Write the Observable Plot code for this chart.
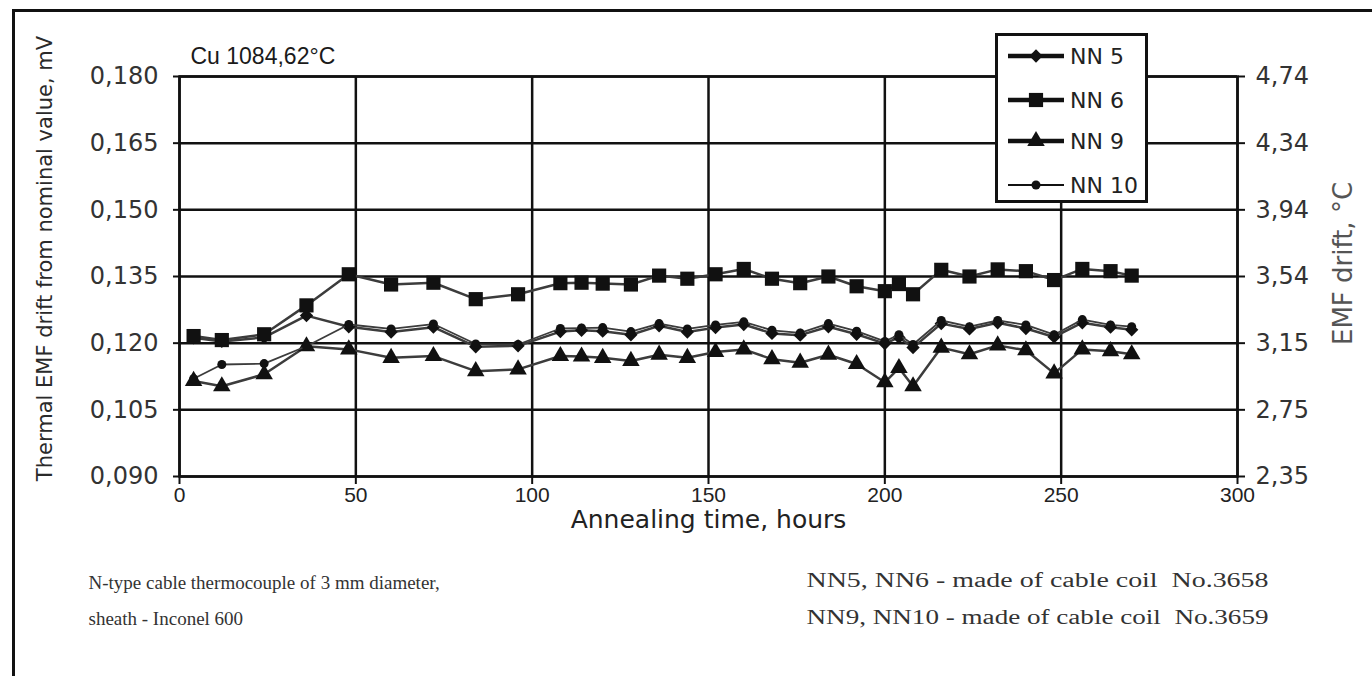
<!DOCTYPE html>
<html><head><meta charset="utf-8">
<script src="https://cdn.jsdelivr.net/npm/d3@7"></script>
<script src="https://cdn.jsdelivr.net/npm/@observablehq/plot@0.6"></script>
<style>
body{margin:0;background:#fff;overflow:hidden}
#wrap{position:relative;width:1372px;height:676px;overflow:hidden;background:#fff}
#border{position:absolute;left:12px;top:9px;width:1400px;height:700px;border-left:3px solid #111;border-top:3px solid #111}
#chart{position:absolute;left:0;top:0}
#legend{position:absolute;left:995px;top:33px;width:147px;height:164px;border:3px solid #111;background:#fff;font-family:"DejaVu Sans";font-size:22px;color:#222}
.row{position:absolute;left:8px;height:30px;display:flex;align-items:center}
.row svg{margin-right:4px}
</style></head>
<body><div id="wrap"><div id="border"></div><div id="chart"></div><div id="legend"></div></div>
<script>
const hours = [4, 12, 24, 36, 48, 60, 72, 84, 96, 108, 114, 120, 128, 136, 144, 152, 160, 168, 176, 184, 192, 200, 204, 208, 216, 224, 232, 240, 248, 256, 264, 270];
const nn5  = [0.1212, 0.1204, 0.1213, 0.1262, 0.1237, 0.1225, 0.1236, 0.1192, 0.1194, 0.1226, 0.1229, 0.1227, 0.1219, 0.1239, 0.1225, 0.1235, 0.1242, 0.1222, 0.1218, 0.1237, 0.1220, 0.1199, 0.1213, 0.1190, 0.1244, 0.1232, 0.1246, 0.1233, 0.1214, 0.1246, 0.1236, 0.1230];
const nn6  = [0.1216, 0.1207, 0.1220, 0.1285, 0.1355, 0.1332, 0.1336, 0.1299, 0.1310, 0.1335, 0.1336, 0.1334, 0.1332, 0.1352, 0.1345, 0.1355, 0.1367, 0.1345, 0.1335, 0.1350, 0.1328, 0.1317, 0.1333, 0.1310, 0.1365, 0.1350, 0.1366, 0.1362, 0.1342, 0.1367, 0.1362, 0.1352];
const nn9  = [0.1115, 0.1103, 0.1130, 0.1193, 0.1186, 0.1167, 0.1171, 0.1137, 0.1141, 0.1171, 0.1170, 0.1167, 0.1160, 0.1174, 0.1167, 0.1180, 0.1186, 0.1164, 0.1156, 0.1174, 0.1153, 0.1112, 0.1144, 0.1103, 0.1190, 0.1175, 0.1195, 0.1184, 0.1132, 0.1186, 0.1182, 0.1175];
const nn10 = [0.1120, 0.1152, 0.1154, 0.1193, 0.1242, 0.1232, 0.1243, 0.1198, 0.1197, 0.1233, 0.1234, 0.1235, 0.1226, 0.1244, 0.1232, 0.1241, 0.1248, 0.1229, 0.1223, 0.1244, 0.1227, 0.1204, 0.1219, 0.1197, 0.1251, 0.1237, 0.1251, 0.1241, 0.1219, 0.1253, 0.1241, 0.1237];

const seriesNames = ["NN 5", "NN 6", "NN 9", "NN 10"];
const seriesValues = [nn5, nn6, nn9, nn10];
const symbols = ["diamond2", "square", "triangle", "circle"];
const markerR = [6, 8, 6.5, 4.5];
const lineW = [2.5, 2.5, 2.5, 1.8];

const yTicks = [0.090, 0.105, 0.120, 0.135, 0.150, 0.165, 0.180];
const yLeftLabels = ["0,090", "0,105", "0,120", "0,135", "0,150", "0,165", "0,180"];
const yRightLabels = ["2,35", "2,75", "3,15", "3,54", "3,94", "4,34", "4,74"];
const xTicks = [0, 50, 100, 150, 200, 250, 300];

const title = "Cu 1084,62°C";
const xLabel = "Annealing time, hours";
const yLabel = "Thermal EMF drift from nominal value, mV";
const y2Label = "EMF drift, °C";
const noteLeft = ["N-type cable thermocouple of 3 mm diameter,", "sheath - Inconel 600"];
const noteRight = ["NN5, NN6 - made of cable coil  No.3658", "NN9, NN10 - made of cable coil  No.3659"];

const data = seriesNames.flatMap((s, i) => hours.map((h, j) => ({series: s, hour: h, v: seriesValues[i][j]})));
const idx = d => yTicks.findIndex(t => Math.abs(t - d) < 1e-9);

const marks = [
  Plot.gridY(yTicks, {stroke: "#111", strokeOpacity: 1, strokeWidth: 2.5}),
  Plot.gridX(xTicks, {stroke: "#111", strokeOpacity: 1, strokeWidth: 2.5}),
  Plot.frame({stroke: "#111", strokeWidth: 2.5}),
  Plot.axisY(yTicks, {anchor: "left", tickSize: 6, tickPadding: 15, tickFormat: d => yLeftLabels[idx(d)], fontSize: 24, fontFamily: "DejaVu Sans", fill: "#333", stroke: "#111", strokeWidth: 2, label: null}),
  Plot.axisY(yTicks, {anchor: "right", tickSize: 7, tickPadding: 11, tickFormat: d => yRightLabels[idx(d)], fontSize: 24, fontFamily: "DejaVu Sans", fill: "#333", stroke: "#111", strokeWidth: 2, label: null}),
  Plot.axisX(xTicks, {anchor: "bottom", tickSize: 8, tickPadding: 3, fontSize: 21, fontFamily: "Liberation Sans", fill: "#222", stroke: "#111", strokeWidth: 2, label: null}),
];
seriesNames.forEach((s, i) => {
  const d = data.filter(r => r.series === s);
  marks.push(Plot.line(d, {x: "hour", y: "v", stroke: "#3c3c3c", strokeWidth: lineW[i]}));
  marks.push(Plot.dot(d, {x: "hour", y: "v", symbol: symbols[i], r: markerR[i], fill: "#111", stroke: "none"}));
});
const noteStyle = {frameAnchor: "bottom-left", textAnchor: "start", lineAnchor: "middle", fontSize: 19, fontFamily: "Liberation Serif", fill: "#333"};
marks.push(
  Plot.text([title], {frameAnchor: "top-left", dx: 11, dy: -20, textAnchor: "start", lineAnchor: "middle", fontSize: 23, fontFamily: "Liberation Sans", fill: "#1a1a1a"}),
  Plot.text([xLabel], {frameAnchor: "bottom", dy: 43, lineAnchor: "middle", fontSize: 25, fontFamily: "DejaVu Sans", fill: "#222"}),
  Plot.text([yLabel], {frameAnchor: "left", dx: -134, dy: -18, rotate: -90, textAnchor: "middle", lineAnchor: "middle", fontSize: 21, fontFamily: "DejaVu Sans", fill: "#2a2a2a"}),
  Plot.text([y2Label], {frameAnchor: "right", dx: 106, dy: -13, rotate: -90, textAnchor: "middle", lineAnchor: "middle", fontSize: 26, fontFamily: "DejaVu Sans", fill: "#555"}),
  Plot.text([noteLeft[0]], {...noteStyle, dx: -91, dy: 106}),
  Plot.text([noteLeft[1]], {...noteStyle, dx: -91, dy: 142}),
  Plot.text([noteRight[0]], {...noteStyle, fontSize: 20, dx: 627, dy: 104}),
  Plot.text([noteRight[1]], {...noteStyle, fontSize: 20, dx: 627, dy: 141})
);

const chart = Plot.plot({
  width: 1372, height: 676,
  marginLeft: 179, marginRight: 135, marginTop: 76, marginBottom: 200,
  x: {domain: [0, 300]},
  y: {domain: [0.090, 0.180]},
  style: {fontFamily: "DejaVu Sans", background: "transparent", color: "#222"},
  marks
});
// stretch the right-hand notes to the width they span in the reference
d3.select(chart).selectAll("text").filter(function() { return noteRight.includes(this.textContent); })
  .attr("textLength", 462).attr("lengthAdjust", "spacingAndGlyphs");
document.getElementById("chart").appendChild(chart);

// legend
const leg = document.getElementById("legend");
const rowTops = [5, 49, 90, 134];
seriesNames.forEach((s, i) => {
  const row = document.createElement("div");
  row.className = "row";
  row.style.top = rowTops[i] + "px";
  const svg = d3.create("svg").attr("width", 60).attr("height", 30);
  svg.append("line").attr("x1", 2).attr("x2", 58).attr("y1", 15).attr("y2", 15)
    .attr("stroke", "#111").attr("stroke-width", i === 3 ? 2 : 4.5);
  const sym = {diamond2: d3.symbolDiamond2, square: d3.symbolSquare, triangle: d3.symbolTriangle, circle: d3.symbolCircle}[symbols[i]];
  svg.append("path").attr("d", d3.symbol(sym, Math.PI * markerR[i] * markerR[i])()).attr("transform", "translate(30,15)").attr("fill", "#111");
  row.appendChild(svg.node());
  const t = document.createElement("span");
  t.textContent = s;
  row.appendChild(t);
  leg.appendChild(row);
});
</script></body></html>
